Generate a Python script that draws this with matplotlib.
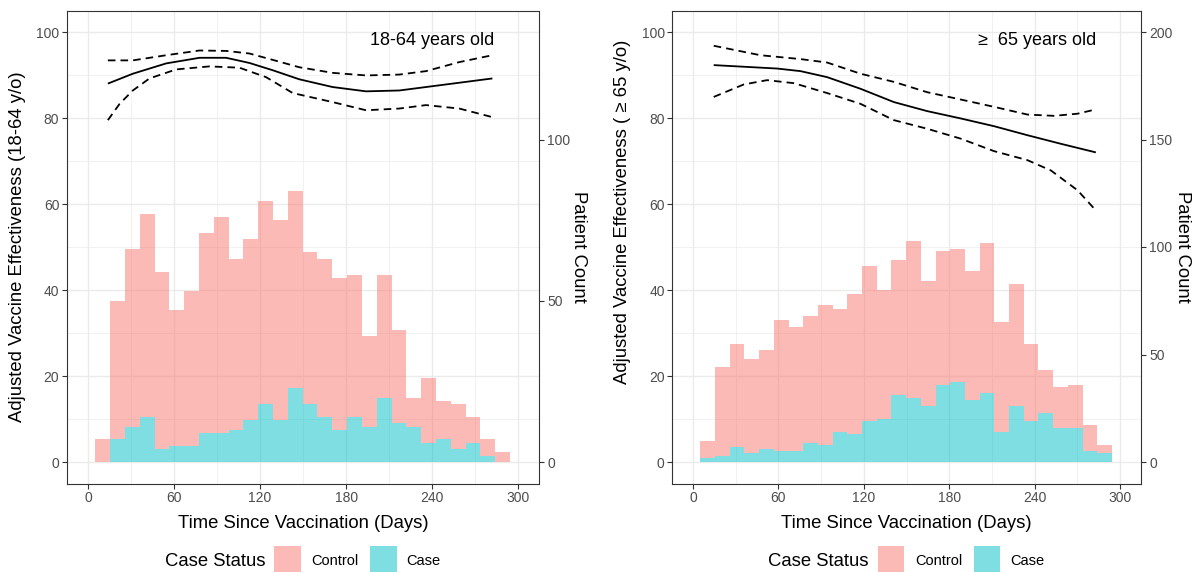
import numpy as np
import matplotlib
matplotlib.use("Agg")
import matplotlib.pyplot as plt
from matplotlib.patches import Rectangle

plt.rcParams['font.family'] = ['Liberation Sans', 'DejaVu Sans']

# ---------------- data ----------------
bin_start = 5.1
bin_width = 10.33

# 18-64 years old
case_L = [0, 7, 11, 14, 4, 5, 5, 9, 9, 10, 13, 18, 13, 23, 18, 14, 10, 14, 11, 20, 12, 11, 6, 7, 4, 6, 2, 0]
control_L = [7, 43, 55, 63, 55, 42, 48, 62, 67, 53, 56, 63, 62, 61, 47, 49, 47, 44, 28, 38, 29, 9, 20, 12, 14, 8, 5, 3]

est_L_day = [13.9, 31.3, 54.6, 77.8, 96.4, 112.6, 128.9, 147.4, 170.6, 193.9, 217.1, 240.3, 263.5, 282.0]
est_L = [88.0, 90.3, 92.7, 94.0, 94.0, 92.8, 91.1, 89.0, 87.2, 86.2, 86.4, 87.4, 88.4, 89.2]
up_L_day = [13.9, 31.3, 54.6, 77.8, 96.4, 112.6, 131.2, 147.4, 170.6, 193.9, 217.1, 235.7, 258.9, 282.0]
up_L = [93.4, 93.4, 94.6, 95.7, 95.6, 95.0, 93.3, 91.8, 90.5, 89.9, 90.1, 90.9, 93.0, 94.6]
lo_L_day = [13.9, 22.1, 31.3, 42.9, 61.5, 84.7, 105.6, 124.2, 142.8, 170.6, 193.9, 217.1, 235.7, 258.9, 282.0]
lo_L = [79.5, 83.3, 86.4, 89.2, 91.3, 92.0, 91.7, 89.5, 85.8, 83.7, 81.8, 82.2, 83.0, 82.2, 80.2]

# >= 65 years old
case_R = [2, 3, 7, 4, 6, 5, 5, 9, 8, 14, 13, 19, 20, 31, 30, 26, 36, 37, 29, 32, 14, 26, 19, 23, 16, 16, 5, 4]
control_R = [8, 41, 48, 44, 46, 61, 58, 59, 65, 57, 65, 72, 60, 63, 73, 58, 62, 62, 60, 70, 51, 57, 36, 20, 19, 20, 12, 4]

est_R_day = [14.5, 59.1, 75.5, 94.2, 117.6, 141.1, 164.5, 188.0, 211.4, 234.9, 258.4, 283.0]
est_R = [92.3, 91.5, 90.9, 89.5, 86.8, 83.7, 81.6, 79.9, 78.1, 76.0, 74.0, 72.0]
up_R_day = [14.5, 47.3, 75.5, 94.2, 117.6, 141.1, 164.5, 188.0, 211.4, 234.9, 253.7, 270.1, 283.0]
up_R = [96.8, 94.6, 93.7, 92.9, 90.3, 88.4, 86.0, 84.3, 82.6, 80.8, 80.5, 81.0, 82.0]
lo_R_day = [14.5, 35.6, 52.0, 70.8, 94.2, 117.6, 141.1, 164.5, 188.0, 211.4, 234.9, 251.4, 270.1, 283.0]
lo_R = [84.9, 87.8, 88.8, 88.1, 85.8, 83.3, 79.5, 77.5, 75.2, 72.3, 70.2, 67.8, 63.2, 58.5]

x_ticks = [0, 60, 120, 180, 240, 300]
ev_ticks = [0, 20, 40, 60, 80, 100]
count_ticks_L = [0, 50, 100]
count_ticks_R = [0, 50, 100, 150, 200]
count_scale_L = 4 / 3
count_scale_R = 2.0

ylabels = ["Adjusted Vaccine Effectiveness (18-64 y/o)", "Adjusted Vaccine Effectiveness ( \u2265 65 y/o)"]
annots = ["18-64 years old", "\u2265  65 years old"]
xlabel = "Time Since Vaccination (Days)"
legend_title = "Case Status"
legend_labels = ["Control", "Case"]

# ---------------- style ----------------
C_CONTROL = "#F8766D"
C_CASE = "#00BFC4"
ALPHA = 0.5
GRID = "#EBEBEB"
DARK = "#333333"
TICKLAB = "#4D4D4D"

W, H = 1197, 572
fig = plt.figure(figsize=(W / 100, H / 100), dpi=100)


def fx(px):
    return px / W


def fy(py):
    return 1 - py / H


panels = [
    dict(left=67, right=539, case=case_L, control=control_L, scale=count_scale_L, cticks=count_ticks_L,
         est=(est_L_day, est_L), up=(up_L_day, up_L), lo=(lo_L_day, lo_L),
         pc_x=579, yl_x=18, yl_y=247),
    dict(left=672.3, right=1140.7, case=case_R, control=control_R, scale=count_scale_R, cticks=count_ticks_R,
         est=(est_R_day, est_R), up=(up_R_day, up_R), lo=(lo_R_day, lo_R),
         pc_x=1182, yl_x=622.5, yl_y=212),
]

top_px, bot_px = 10.5, 483.5
for i, p in enumerate(panels):
    wpx = p['right'] - p['left']
    hpx = bot_px - top_px
    ax = fig.add_axes([fx(p['left']), fy(bot_px), fx(wpx), hpx / H])
    ax.set_xlim(-14.6, 314.5)
    ax.set_ylim(-5, 105)
    ax.set_xticks(x_ticks)
    ax.set_yticks(ev_ticks)
    ax.set_xticks([30, 90, 150, 210, 270], minor=True)
    ax.set_yticks([10, 30, 50, 70, 90], minor=True)
    ax.grid(True, which='major', color=GRID, lw=1.0)
    ax.grid(True, which='minor', color=GRID, lw=0.5)
    ax.set_axisbelow(True)
    ax.tick_params(which='major', length=3.5, width=0.8, color=DARK, labelcolor=TICKLAB, labelsize=10, pad=2.0)
    ax.tick_params(which='minor', length=0)
    for s in ax.spines.values():
        s.set_color(DARK)
        s.set_linewidth(0.8)

    # effectiveness curves
    ax.plot(*p['est'], color='black', lw=1.3, solid_capstyle='butt')
    for key in ('up', 'lo'):
        ax.plot(*p[key], color='black', lw=1.3, dashes=(4.2, 2.8))
    ax.text(283, 98, annots[i], ha='right', va='center', fontsize=13, color='black')
    ax.set_xlabel(xlabel, fontsize=13.3, labelpad=7)
    ax.set_ylabel(ylabels[i], fontsize=13.3, va='center', ha='center')
    ax.yaxis.set_label_coords((p['yl_x'] - p['left']) / wpx, (bot_px - p['yl_y']) / hpx)

    # histogram (patient count) on secondary axis
    ax2 = ax.twinx()
    ax2.set_ylim(-5 * p['scale'], 105 * p['scale'])
    ax2.set_yticks(p['cticks'])
    ax2.tick_params(length=3.5, width=0.8, color=DARK, labelcolor=TICKLAB, labelsize=10, pad=2.5)
    for s in ax2.spines.values():
        s.set_visible(False)
    edges = bin_start + bin_width * np.arange(len(p['case']))
    ax2.bar(edges, p['case'], width=bin_width, align='edge', color=C_CASE, alpha=ALPHA, lw=0)
    ax2.bar(edges, p['control'], width=bin_width, bottom=p['case'], align='edge', color=C_CONTROL,
            alpha=ALPHA, lw=0)
    ax2.set_ylabel("Patient Count", fontsize=13.3, rotation=-90, va='center', ha='center')
    ax2.yaxis.set_label_coords((p['pc_x'] - p['left']) / wpx, 0.5)

    # legend (manual, ggplot-style horizontal)
    cx = (p['left'] + p['right']) / 2
    ty = fy(561)
    fig.text(fx(cx - 138), ty, legend_title, fontsize=13.3, va='center', ha='left')
    for j, (lab, col, off_k, off_t) in enumerate([(legend_labels[0], C_CONTROL, -29, 8.7),
                                                   (legend_labels[1], C_CASE, 67, 103.7)]):
        fig.patches.append(Rectangle((fx(cx + off_k), fy(574)), fx(26.7), (574 - 546) / H,
                                     transform=fig.transFigure, facecolor=col, alpha=ALPHA, lw=0))
        fig.text(fx(cx + off_t), ty, lab, fontsize=10.5, va='center', ha='left')

fig.savefig("out.png", dpi=100)
